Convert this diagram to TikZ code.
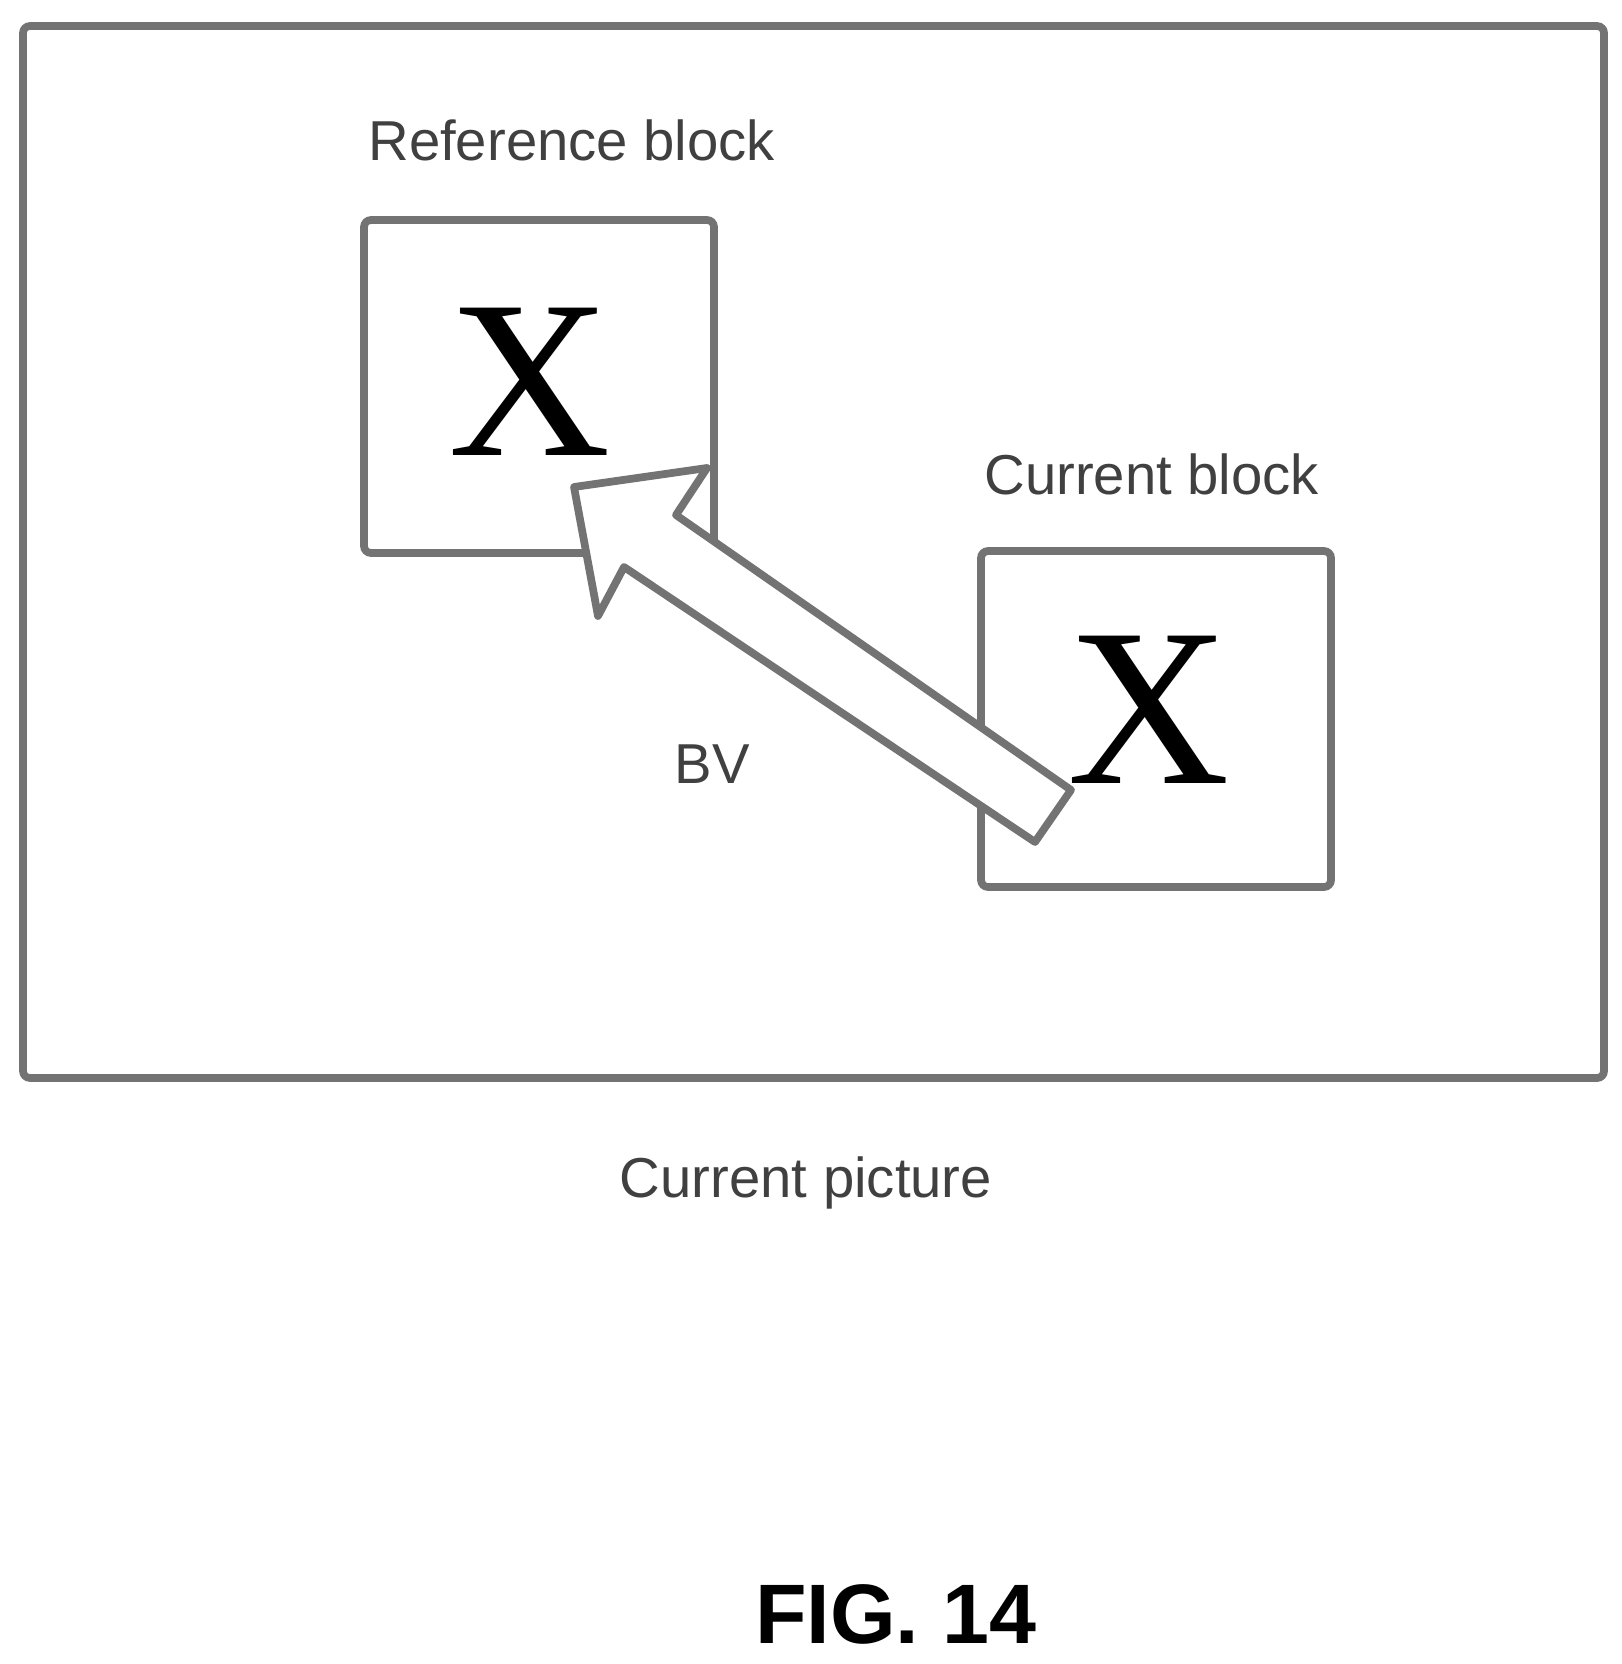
\documentclass[tikz,border=0pt]{standalone}
\usepackage{fontspec}
\setmainfont{Liberation Sans}
\newfontfamily\serifx{Liberation Serif}
\usepackage{tikz}
\usetikzlibrary{positioning}
\definecolor{mygray}{rgb}{0.45,0.45,0.45}

\begin{document}
\begin{tikzpicture}[x=0.01cm,y=-0.01cm,
  blk/.style={draw=mygray, line width=2.2pt, rounded corners=2pt},
  lbl/.style={font=\fontsize{16}{18}\selectfont, text=black!75},
  bigx/.style={font=\serifx\fontsize{64}{64}\selectfont}]

\useasboundingbox (0,0) rectangle (1621,1664);

\draw[blk] (23,26) rectangle (1604,1078);
\node[lbl] (pic) at (806,1183) {Current picture};
\node[font=\bfseries\fontsize{24}{28}\selectfont] (fig) at (896,1614) {FIG. 14};

\draw[blk] (364,220) rectangle (714,553);
\node[lbl, anchor=west] (reflbl) at (356,140) {Reference block};
\node[bigx] (refx) at (530,382) {X};

\draw[blk] (981,551) rectangle (1331,887);
\node[lbl, anchor=west] (curlbl) at (972,474) {Current block};
\node[bigx] (curx) at (1149,710) {X};

\draw[draw=mygray, line width=2.2pt, fill=white, line join=round]
  (1071,790) -- (676,515) -- (707,468) -- (574,487) -- (598,616)
  -- (624,567) -- (1035,842) -- cycle;
\node[lbl] (bv) at (712,764) {BV};

\end{tikzpicture}
\end{document}
